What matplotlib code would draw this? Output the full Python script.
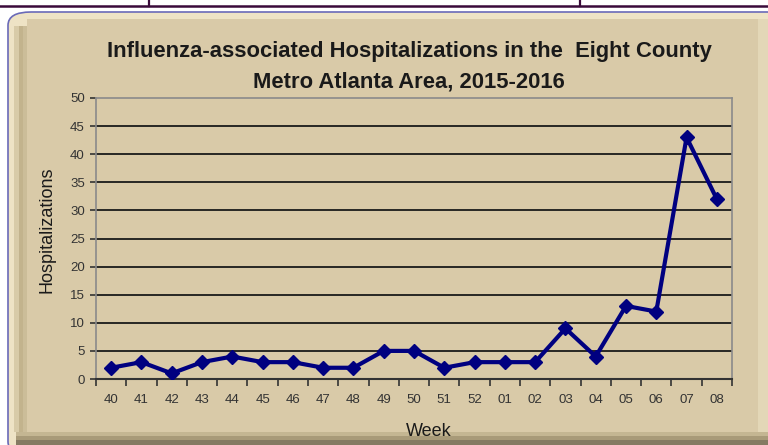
#!/usr/bin/env python3
# -*- coding: utf-8 -*-

"""Influenza hospitalizations by week, Eight County Metro Atlanta, 2015-2016."""

import matplotlib
matplotlib.use("Agg")
import matplotlib.pyplot as plt
from matplotlib.patches import FancyBboxPatch, Rectangle
from matplotlib.lines import Line2D

# =================================================================
# data
# =================================================================
WEEKS = ["40", "41", "42", "43", "44", "45", "46", "47", "48", "49", "50",
         "51", "52", "01", "02", "03", "04", "05", "06", "07", "08"]
HOSPITALIZATIONS = [2, 3, 1, 3, 4, 3, 3, 2, 2, 5, 5,
                    2, 3, 3, 3, 9, 4, 13, 12, 43, 32]
Y_TICKS = [0, 5, 10, 15, 20, 25, 30, 35, 40, 45, 50]
TITLE_1 = "Influenza-associated Hospitalizations in the  Eight County"
TITLE_2 = "Metro Atlanta Area, 2015-2016"
# =================================================================

W, H = 768, 445
BG = "#d9caa8"
NAVY = "#000080"

plt.rcParams['font.family'] = ['Liberation Sans', 'DejaVu Sans']

fig = plt.figure(figsize=(W / 100, H / 100), dpi=100)
fig.patch.set_facecolor("white")


def fx(px):
    return px / W


def fy(py):
    return 1 - py / H


def rect(x0, y0, x1, y1, color):
    """ピクセル座標で矩形を置く（y は上から）。"""
    fig.add_artist(Rectangle((fx(x0), fy(y1)), fx(x1) - fx(x0), fy(y0) - fy(y1),
                             transform=fig.transFigure, facecolor=color,
                             edgecolor="none", zorder=0))


# table lines at the very top
fig.add_artist(Line2D([0, 1], [fy(6), fy(6)], color="#3a0a3a", lw=1.8))
for xp in (149, 580):
    fig.add_artist(Line2D([fx(xp), fx(xp)], [fy(0), fy(6)], color="#3a0a3a", lw=1.6))

# chart frame with a rough bevel
outer = FancyBboxPatch((fx(8), fy(455)), fx(790) - fx(8), fy(12) - fy(455),
                       boxstyle="round,pad=0,rounding_size=0.03",
                       transform=fig.transFigure, facecolor="#eee3c5",
                       edgecolor="#6a6ab8", lw=1.2, zorder=0)
fig.add_artist(outer)
rect(14, 26, 19, 432, "#d8cba8")
rect(19, 26, 23, 432, "#c2b38d")
rect(23, 26, 27, 432, "#cbbd99")
rect(27, 19, 758, 432, BG)
rect(758, 19, 768, 432, "#e3d7b7")
rect(16, 432, 768, 436, "#c4b692")
rect(16, 436, 768, 440, "#a89a78")
rect(16, 440, 768, 445, "#857a62")

ax = fig.add_axes([fx(96), fy(379), fx(732) - fx(96), fy(98) - fy(379)])
ax.set_facecolor(BG)

x = list(range(len(WEEKS)))
ax.plot(x, HOSPITALIZATIONS, color=NAVY, lw=3, marker="D", markersize=7,
        markerfacecolor=NAVY, markeredgecolor=NAVY, zorder=3)

ax.set_xlim(-0.5, len(WEEKS) - 0.5)
ax.set_ylim(0, 50)
ax.set_yticks(Y_TICKS)
ax.set_yticklabels([str(v) for v in Y_TICKS])
for v in Y_TICKS[1:-1]:
    ax.axhline(v, color="#1a1a1a", lw=1.3, zorder=1)

ax.set_xticks(x)
ax.set_xticklabels(WEEKS)
ax.tick_params(axis="x", length=0, pad=11, labelsize=9.5, colors="#333333")
ax.set_xticks([i - 0.5 for i in range(len(WEEKS) + 1)], minor=True)
ax.tick_params(axis="x", which="minor", length=5, width=1.2, color="#333333")
ax.tick_params(axis="y", length=4, width=1.2, color="#333333", pad=4,
               labelsize=9.5, labelcolor="#333333")

for side in ("top", "right", "left"):
    ax.spines[side].set_color("#8a8a8a")
    ax.spines[side].set_linewidth(1.2)
ax.spines["bottom"].set_color("#333333")
ax.spines["bottom"].set_linewidth(1.5)

fig.text(fx(409), fy(52), TITLE_1, ha="center", va="center", fontsize=15.8,
         fontweight="bold", color="#1a1a1a")
fig.text(fx(409), fy(82), TITLE_2, ha="center", va="center", fontsize=15.8,
         fontweight="bold", color="#1a1a1a")
fig.text(fx(47), fy(230), "Hospitalizations", rotation=90, ha="center",
         va="center", fontsize=13, color="#1a1a1a")
fig.text(fx(429), fy(432), "Week", ha="center", va="center", fontsize=13,
         color="#1a1a1a")

fig.savefig("out.png", dpi=100, facecolor=fig.get_facecolor())
